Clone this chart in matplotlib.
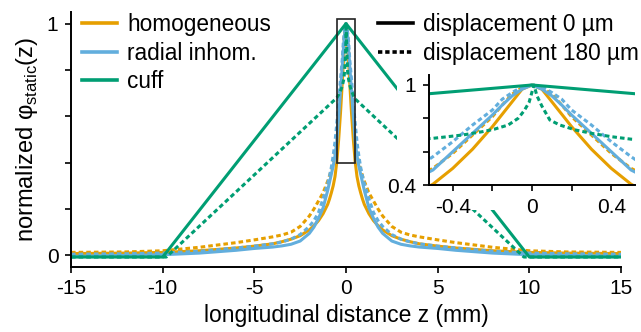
"""
Normalized static potential along the nerve: main plot + zoomed inset.
"""

import matplotlib

matplotlib.use("Agg")
import matplotlib.pyplot as plt
from matplotlib.lines import Line2D
from matplotlib.patches import Rectangle

# ---------------------------------------------------------------------------
# data
# ---------------------------------------------------------------------------

Z_MM = [-15, -12, -10, -8, -7, -6, -5, -4, -3.5, -3, -2.5, -2, -1.75, -1.5, -1.25,
        -1, -0.9, -0.8, -0.7, -0.6, -0.5, -0.4, -0.3, -0.2, -0.15, -0.1, -0.05,
        0,
        0.05, 0.1, 0.15, 0.2, 0.3, 0.4, 0.5, 0.6, 0.7, 0.8, 0.9, 1, 1.25, 1.5,
        1.75, 2, 2.5, 3, 3.5, 4, 5, 6, 7, 8, 10, 12, 15]

HOM_0 = [0.008, 0.01, 0.013, 0.02, 0.026, 0.032, 0.04, 0.05, 0.059, 0.07, 0.085,
         0.11, 0.128, 0.15, 0.18, 0.22, 0.243, 0.27, 0.30, 0.34, 0.405, 0.50,
         0.615, 0.75, 0.825, 0.90, 0.975,
         1.0,
         0.975, 0.90, 0.825, 0.75, 0.615, 0.50, 0.405, 0.34, 0.30, 0.27, 0.243,
         0.22, 0.18, 0.15, 0.128, 0.11, 0.085, 0.07, 0.059, 0.05, 0.04, 0.032,
         0.026, 0.02, 0.013, 0.01, 0.008]

HOM_180 = [0.013, 0.015, 0.02, 0.035, 0.045, 0.055, 0.067, 0.08, 0.088, 0.10, 0.125,
           0.17, 0.20, 0.235, 0.27, 0.32, 0.343, 0.37, 0.40, 0.44, 0.50, 0.59,
           0.70, 0.81, 0.88, 0.945, 0.985,
           1.0,
           0.985, 0.945, 0.88, 0.81, 0.70, 0.59, 0.50, 0.44, 0.40, 0.37, 0.343,
           0.32, 0.27, 0.235, 0.20, 0.17, 0.125, 0.10, 0.088, 0.08, 0.067, 0.055,
           0.045, 0.035, 0.02, 0.015, 0.013]

RAD_0 = [-0.004, 0.0, 0.003, 0.01, 0.016, 0.022, 0.03, 0.036, 0.041, 0.048, 0.062,
         0.095, 0.122, 0.16, 0.205, 0.28, 0.315, 0.35, 0.385, 0.43, 0.49, 0.60,
         0.71, 0.82, 0.88, 0.935, 0.975,
         1.0,
         0.975, 0.935, 0.88, 0.82, 0.71, 0.60, 0.49, 0.43, 0.385, 0.35, 0.315,
         0.28, 0.205, 0.16, 0.122, 0.095, 0.062, 0.048, 0.041, 0.036, 0.03, 0.022,
         0.016, 0.01, 0.003, 0.0, -0.004]

RAD_180 = [0.005, 0.007, 0.01, 0.018, 0.025, 0.032, 0.04, 0.05, 0.058, 0.07, 0.09,
           0.125, 0.15, 0.185, 0.245, 0.31, 0.342, 0.38, 0.43, 0.49, 0.57, 0.66,
           0.76, 0.85, 0.915, 0.955, 0.99,
           1.0,
           0.99, 0.955, 0.915, 0.85, 0.76, 0.66, 0.57, 0.49, 0.43, 0.38, 0.342,
           0.31, 0.245, 0.185, 0.15, 0.125, 0.09, 0.07, 0.058, 0.05, 0.04, 0.032,
           0.025, 0.018, 0.01, 0.007, 0.005]

CUFF_0_Z = [-15, -10, 0, 10, 15]
CUFF_0 = [-0.007, -0.007, 1.0, -0.007, -0.007]

CUFF_180_Z = [-15, -9.8, -0.5, -0.35, -0.25, -0.19, -0.12, -0.07, -0.04, -0.015,
              0.01, 0.025, 0.05, 0.09, 0.14, 0.22, 0.3, 0.4, 0.5, 9.7, 15]
CUFF_180 = [-0.007, -0.007, 0.68, 0.70, 0.72, 0.735, 0.76, 0.80, 0.845, 0.895,
            1.0, 0.935, 0.873, 0.79, 0.76, 0.73, 0.71, 0.69, 0.675, -0.007, -0.007]

MODEL_LABELS = ["homogeneous", "radial inhom.", "cuff"]
DISP_LABELS = ["displacement 0 µm", "displacement 180 µm"]

MAIN_XTICKS = [-15, -10, -5, 0, 5, 10, 15]
MAIN_YTICKS = [0, 0.2, 0.4, 0.6, 0.8, 1.0]
MAIN_YTICKLABELS = ["0", "", "", "", "", "1"]
INSET_XTICKS = [-0.4, -0.2, 0, 0.2, 0.4]
INSET_XTICKLABELS = ["-0.4", "", "0", "", "0.4"]
INSET_YTICKS = [0.4, 0.6, 0.8, 1.0]
INSET_YTICKLABELS = ["0.4", "", "", "1"]

# ---------------------------------------------------------------------------
# style
# ---------------------------------------------------------------------------

ORANGE = "#E69F00"
BLUE = "#62AEDD"
GREEN = "#009E73"
LW = 2.2
DASH = (1.5, 1.0)
W, H = 641, 332

plt.rcParams["font.family"] = ["Liberation Sans", "DejaVu Sans"]
plt.rcParams["axes.linewidth"] = 1.4


def style_axis(ax, fs):
    for side in ("top", "right"):
        ax.spines[side].set_visible(False)
    ax.tick_params(direction="out", length=4, width=1.2, labelsize=fs, pad=5)


def draw_curves(ax):
    ax.plot(Z_MM, HOM_0, color=ORANGE, lw=LW)
    ax.plot(Z_MM, HOM_180, color=ORANGE, lw=LW, ls=(0, DASH))
    ax.plot(Z_MM, RAD_0, color=BLUE, lw=LW)
    ax.plot(Z_MM, RAD_180, color=BLUE, lw=LW, ls=(0, DASH))
    ax.plot(CUFF_0_Z, CUFF_0, color=GREEN, lw=LW)
    ax.plot(CUFF_180_Z, CUFF_180, color=GREEN, lw=LW, ls=(0, DASH))


def px_box(left, top, right, bottom):
    return [left / W, 1 - bottom / H, (right - left) / W, (bottom - top) / H]


def main():
    fig = plt.figure(figsize=(W / 100, H / 100), dpi=100)

    ax = fig.add_axes(px_box(71, 12, 621, 267))
    draw_curves(ax)
    ax.set_xlim(-15, 15)
    ax.set_ylim(-0.05, 1.05)
    ax.set_xticks(MAIN_XTICKS)
    ax.set_xticklabels([str(t) for t in MAIN_XTICKS])
    ax.set_yticks(MAIN_YTICKS)
    ax.set_yticklabels(MAIN_YTICKLABELS)
    style_axis(ax, 15)
    ax.set_xlabel("longitudinal distance z (mm)", fontsize=16.5, labelpad=4)
    ax.set_ylabel(r"normalized φ$_\mathregular{static}$(z)", fontsize=17, labelpad=5)

    # zoom box around the peak
    ax.add_patch(Rectangle((-0.5, 0.4), 1.0, 0.62, fill=False, ec="#222222",
                           lw=1.2, zorder=6))

    # white area behind the inset
    ax.add_patch(Rectangle((397 / W, 1 - 210 / H), 244 / W, 140 / H,
                           transform=fig.transFigure, fc="white", ec="none",
                           clip_on=False, zorder=4))

    legend_kw = dict(loc="upper left", frameon=False, fontsize=16.3,
                     handlelength=1.55, handletextpad=0.45, labelspacing=0.24,
                     borderaxespad=0, borderpad=0)

    model_handles = [Line2D([], [], color=c, lw=LW + 0.4) for c in (ORANGE, BLUE, GREEN)]
    leg1 = ax.legend(model_handles, MODEL_LABELS, bbox_to_anchor=(0.02, 0.995),
                     **legend_kw)
    ax.add_artist(leg1)

    disp_handles = [Line2D([], [], color="black", lw=LW + 0.4),
                    Line2D([], [], color="black", lw=LW + 0.4, ls=(0, (1.2, 0.8)))]
    ax.legend(disp_handles, DISP_LABELS, bbox_to_anchor=(0.558, 0.995), **legend_kw)

    # inset
    axin = fig.add_axes(px_box(429, 75, 635, 185))
    axin.patch.set_alpha(0)
    draw_curves(axin)
    axin.set_xlim(-0.52, 0.52)
    axin.set_ylim(0.4, 1.06)
    axin.set_xticks(INSET_XTICKS)
    axin.set_xticklabels(INSET_XTICKLABELS)
    axin.set_yticks(INSET_YTICKS)
    axin.set_yticklabels(INSET_YTICKLABELS)
    style_axis(axin, 15)

    fig.savefig("out.png", dpi=100)
    plt.close(fig)


if __name__ == "__main__":
    main()
